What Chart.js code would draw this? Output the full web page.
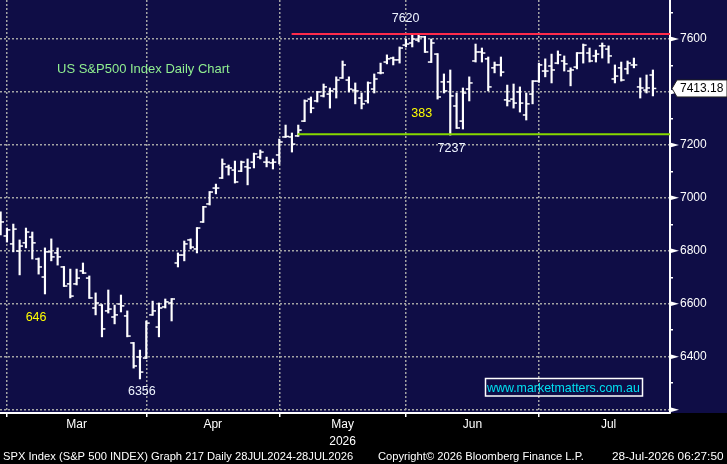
<!DOCTYPE html>
<html lang="en">
<head>
<meta charset="UTF-8">
<title>SPX Index Daily Chart</title>
<script src="https://cdn.jsdelivr.net/npm/chart.js"></script>
<style>
  html, body { margin: 0; padding: 0; background: #000; }
  #chart { display: block; }
</style>
</head>
<body>
<canvas id="chart" width="727" height="464"></canvas>
<script>
// daily OHLC, one bar per trading day (index 0 = last Feb bar)
const opens = [6925,6856,6826,6799,6830,6852,6769,6701,6796,6792,
  6739,6675,6675,6724,6697,6584,6595,6573,6550,6599,
  6554,6452,6399,6395,6558,6512,6588,6603,6754,6784,
  6841,6807,6909,6977,7037,7075,7117,7105,7101,7117,
  7135,7154,7135,7132,7162,7230,7230,7234,7290,7373,
  7366,7385,7392,7411,7453,7445,7407,7377,7366,7411,
  7472,7513,7528,7521,7577,7585,7596,7608,7513,7543,
  7438,7438,7347,7290,7411,7517,7551,7525,7491,7502,
  7370,7373,7400,7313,7392,7441,7479,7498,7509,7517,
  7479,7494,7547,7547,7536,7574,7562,7449,7491,7487,
  7502,7419,7407,7464];
const highs = [6947,6886,6901,6841,6886,6871,6773,6811,6845,6811,
  6741,6731,6731,6754,6705,6641,6597,6652,6595,6633,
  6573,6454,6425,6535,6610,6603,6618,6620,6792,6837,
  6845,6888,6968,7024,7052,7147,7124,7139,7139,7147,
  7169,7181,7154,7147,7222,7275,7245,7275,7370,7381,
  7402,7430,7415,7457,7517,7457,7434,7396,7438,7468,
  7509,7540,7532,7570,7600,7615,7619,7610,7600,7545,
  7468,7483,7396,7415,7457,7581,7566,7532,7513,7532,
  7426,7430,7419,7396,7443,7509,7525,7543,7555,7536,
  7491,7549,7581,7566,7558,7585,7574,7502,7513,7517,
  7528,7453,7464,7483];
const lows = [6860,6833,6796,6709,6811,6769,6712,6637,6762,6746,
  6665,6622,6671,6714,6620,6558,6475,6565,6524,6569,
  6475,6357,6316,6393,6556,6475,6584,6535,6739,6762,
  6807,6792,6907,6973,7015,7073,7086,7056,7099,7049,
  7113,7147,7117,7109,7128,7228,7173,7232,7288,7321,
  7362,7381,7339,7377,7451,7400,7355,7336,7358,7396,
  7468,7506,7502,7509,7570,7570,7589,7549,7511,7373,
  7396,7237,7262,7260,7366,7513,7513,7404,7472,7460,
  7347,7339,7324,7294,7355,7436,7457,7434,7506,7479,
  7423,7487,7509,7513,7513,7528,7509,7434,7441,7468,
  7491,7377,7396,7385];
const closes = [6909,6879,6882,6818,6871,6830,6739,6796,6777,6777,
  6667,6629,6697,6716,6622,6603,6505,6580,6558,6592,
  6478,6365,6342,6527,6573,6584,6607,6618,6784,6826,
  6814,6886,6966,7022,7037,7128,7113,7060,7135,7113,
  7166,7173,7135,7135,7211,7232,7203,7256,7366,7339,
  7400,7419,7404,7445,7502,7411,7404,7355,7434,7449,
  7472,7525,7521,7566,7581,7600,7608,7551,7585,7381,
  7404,7385,7264,7396,7434,7551,7547,7419,7502,7475,
  7366,7358,7358,7355,7441,7502,7479,7483,7540,7506,
  7483,7547,7577,7517,7543,7574,7536,7460,7445,7509,
  7502,7415,7415,7413.18];

// x axis: month names and the bar index where each month starts
const monthNames = ['Mar', 'Apr', 'May', 'Jun', 'Jul'];
const monthStarts = [1, 23, 44, 64, 85];
const monthEnd = 107;
const yearLabel = '2026';

// y axis ticks (labels every 200)
const priceTicks = [6200,6300,6400,6500,6600,6700,6800,6900,7000,7100,7200,7300,7400,7500,7600,7700];
const priceLabels = [6400,6600,6800,7000,7200,7400,7600];

// horizontal levels: [start bar index, price]
const resistance = [45.95, 7619];
const support = [46.9, 7240];

// text notes placed in data coordinates
const notes = [
  { text: '7620', x: 63.95, y: 7679, color: '#eef4ff' },
  { text: '7237', x: 71.2, y: 7186, color: '#eef4ff' },
  { text: '383', x: 66.5, y: 7317, color: '#ffff00' },
  { text: '646', x: 5.6, y: 6548, color: '#ffff00' },
  { text: '6356', x: 22.3, y: 6269, color: '#eef4ff' }
];

const NAVY = 'rgb(15,13,70)';
const GRID = '#a4a4a4';
const FONT = "'Liberation Sans', Arial, sans-serif";
Chart.defaults.font.family = FONT;

const xMin = -0.1, xMax = 105.7;
const yMin = 6187.4, yMax = 7747.3;

const monthMids = monthStarts.map((s, k) => (s + (monthStarts[k + 1] || monthEnd)) / 2);
const xTicks = monthStarts.concat(monthMids).sort((a, b) => a - b);
const isStart = v => monthStarts.indexOf(v) !== -1;

const ranges = highs.map((h, i) => ({ x: i, y: [lows[i], h] }));
const openPts = opens.map((o, i) => ({ x: i - 0.27, y: o }));
const closePts = closes.map((c, i) => ({ x: i + 0.27, y: c }));

const decor = {
  id: 'decor',
  beforeDraw(chart) {
    const { ctx, width, height, chartArea } = chart;
    ctx.save();
    ctx.fillStyle = '#000';
    ctx.fillRect(0, 0, width, height);
    ctx.fillStyle = NAVY;
    ctx.fillRect(0, 0, width, chartArea.bottom);
    ctx.restore();
  },
  afterDraw(chart) {
    const { ctx, chartArea } = chart;
    const xs = chart.scales.x, ys = chart.scales.y;
    const r = chartArea.right;
    ctx.save();

    // arrows on the major price ticks
    ctx.fillStyle = '#fff';
    priceTicks.filter(v => v % 200 === 0).forEach(v => {
      const py = ys.getPixelForValue(v);
      ctx.beginPath();
      ctx.moveTo(r, py - 2.5);
      ctx.lineTo(r + 9, py);
      ctx.lineTo(r, py + 2.5);
      ctx.closePath();
      ctx.fill();
    });

    // last price tag
    const last = closes[closes.length - 1];
    const by = ys.getPixelForValue(last);
    ctx.beginPath();
    ctx.moveTo(r + 2, by);
    ctx.lineTo(r + 7, by - 8.5);
    ctx.lineTo(chart.width, by - 8.5);
    ctx.lineTo(chart.width, by + 8.5);
    ctx.lineTo(r + 7, by + 8.5);
    ctx.closePath();
    ctx.fillStyle = '#fff';
    ctx.fill();
    ctx.strokeStyle = '#222';
    ctx.lineWidth = 1;
    ctx.stroke();
    ctx.fillStyle = '#000';
    ctx.font = '12px ' + FONT;
    ctx.textBaseline = 'middle';
    ctx.textAlign = 'left';
    ctx.fillText(last.toFixed(2), r + 10, by + 0.5);

    // notes
    ctx.font = '12.5px ' + FONT;
    ctx.textAlign = 'center';
    notes.forEach(n => {
      ctx.fillStyle = n.color;
      ctx.fillText(n.text, xs.getPixelForValue(n.x), ys.getPixelForValue(n.y));
    });

    // chart title
    ctx.textAlign = 'left';
    ctx.textBaseline = 'alphabetic';
    ctx.font = '13px ' + FONT;
    ctx.fillStyle = '#90ee90';
    ctx.fillText('US S&P500 Index Daily Chart', 57, 73);

    // website box
    ctx.font = '12.4px ' + FONT;
    ctx.fillStyle = '#00e0f0';
    ctx.fillText('www.marketmatters.com.au', 487, 392);
    ctx.strokeStyle = '#fff';
    ctx.lineWidth = 1.5;
    ctx.strokeRect(485.5, 378.5, 157, 17.5);

    // footer
    ctx.fillStyle = '#fff';
    ctx.font = '11.2px ' + FONT;
    ctx.fillText('SPX Index (S&P 500 INDEX) Graph 217 Daily 28JUL2024-28JUL2026', 3, 460);
    ctx.fillText('Copyright\u00a9 2026 Bloomberg Finance L.P.', 378, 460);
    ctx.font = '11.8px ' + FONT;
    ctx.fillText('28-Jul-2026 06:27:50', 612, 460);
    ctx.restore();
  }
};

const chart = new Chart(document.getElementById('chart'), {
  type: 'bar',
  data: {
    datasets: [
      {
        type: 'line', data: [{ x: resistance[0], y: resistance[1] }, { x: xMax, y: resistance[1] }],
        borderColor: '#ff2a4a', borderWidth: 2, pointRadius: 0
      },
      {
        type: 'line', data: [{ x: support[0], y: support[1] }, { x: xMax, y: support[1] }],
        borderColor: '#86d800', borderWidth: 2, pointRadius: 0
      },
      {
        type: 'bar', data: ranges, backgroundColor: '#fff', borderWidth: 0,
        barThickness: 1.5, grouped: false
      },
      {
        type: 'scatter', data: openPts, pointStyle: 'line', radius: 1.7,
        borderColor: '#fff', borderWidth: 1.5
      },
      {
        type: 'scatter', data: closePts, pointStyle: 'line', radius: 1.7,
        borderColor: '#fff', borderWidth: 1.5
      }
    ]
  },
  options: {
    responsive: false,
    animation: false,
    devicePixelRatio: 1,
    layout: { padding: 0, autoPadding: false },
    events: [],
    plugins: { legend: { display: false }, tooltip: { enabled: false } },
    scales: {
      x: {
        type: 'linear', position: 'bottom', min: xMin, max: xMax, offset: false,
        afterBuildTicks: s => { s.ticks = xTicks.map(v => ({ value: v })); },
        afterFit: s => { s.height = 51; s.paddingLeft = 0; s.paddingRight = 0; },
        grid: {
          offset: false,
          color: c => (c.tick && isStart(c.tick.value)) ? GRID : 'rgba(0,0,0,0)',
          lineWidth: 1.5,
          tickLength: 4,
          tickWidth: 1.5,
          tickColor: c => (c.tick && isStart(c.tick.value)) ? '#fff' : 'rgba(0,0,0,0)'
        },
        border: { color: '#fff', width: 2, dash: [2, 2] },
        ticks: {
          color: '#fff', font: { size: 12, lineHeight: 1.35 }, padding: 0,
          maxRotation: 0, autoSkip: false,
          callback: v => {
            const k = monthMids.indexOf(v);
            if (k === -1) return '';
            return monthNames[k] === 'May' ? [monthNames[k], yearLabel] : monthNames[k];
          }
        }
      },
      y: {
        type: 'linear', position: 'right', min: yMin, max: yMax,
        afterBuildTicks: s => { s.ticks = priceTicks.map(v => ({ value: v })); },
        afterFit: s => { s.width = 57; s.paddingTop = 0; s.paddingBottom = 0; },
        grid: {
          color: c => (c.tick && c.tick.value % 200 === 0) ? GRID : 'rgba(0,0,0,0)',
          lineWidth: 1.5,
          tickLength: 3,
          tickWidth: 1.5,
          tickColor: '#fff'
        },
        border: { color: '#fff', width: 2, dash: [2, 2] },
        ticks: {
          color: '#fff', font: { size: 12 }, padding: 7, autoSkip: false,
          callback: v => priceLabels.indexOf(v) !== -1 ? String(v) : ''
        }
      }
    }
  },
  plugins: [decor]
});
</script>
</body>
</html>
